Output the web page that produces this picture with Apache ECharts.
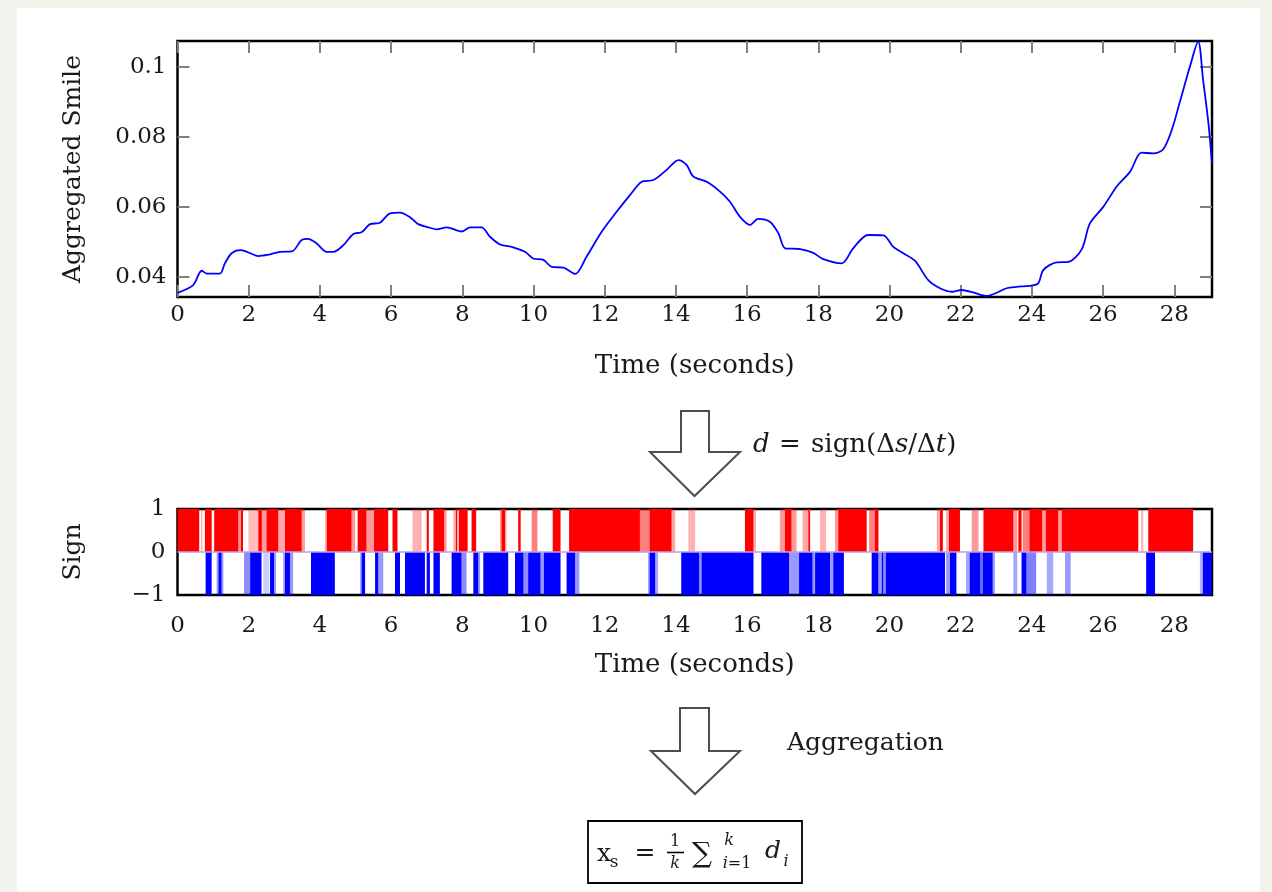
<!DOCTYPE html>
<html><head><meta charset="utf-8">
<script src="https://cdn.jsdelivr.net/npm/echarts@6/dist/echarts.min.js"></script>
<style>
html,body{margin:0;padding:0;background:#f4f2ed;width:1272px;height:892px;overflow:hidden}
#panel{position:absolute;left:17px;top:8px;width:1243px;height:884px;background:#fff}
#chart{position:absolute;left:0;top:0;width:1272px;height:892px}
</style></head><body>
<div id="panel"></div><div id="chart"></div>
<script>
// ---- data ----
const timeTicks = [0, 2, 4, 6, 8, 10, 12, 14, 16, 18, 20, 22, 24, 26, 28];
const smileTicks = [0.04, 0.06, 0.08, 0.1];
const signTicks = [-1, 0, 1];

const smileTime = [0, 0.44, 0.68, 0.82, 1.19, 1.33, 1.52, 1.76, 1.95, 2.27, 2.6, 2.88, 3.21, 3.49, 3.67, 3.91, 4.19, 4.38, 4.66, 4.94,
  5.17, 5.41, 5.69, 5.97, 6.25, 6.53, 6.76, 7.05, 7.28, 7.56, 7.98, 8.22, 8.54, 8.78, 9.06, 9.43, 9.76, 9.99, 10.28, 10.51,
  10.84, 11.17, 11.49, 11.92, 12.34, 12.71, 13.04, 13.37, 13.74, 14.07, 14.3, 14.49, 14.87, 15.24, 15.52, 15.8, 16.08, 16.31, 16.64, 16.88,
  17.07, 17.49, 17.86, 18.14, 18.66, 18.98, 19.4, 19.83, 20.1, 20.39, 20.72, 21.09, 21.42, 21.75, 22.03, 22.35, 22.73, 22.96, 23.29, 23.57,
  23.95, 24.18, 24.32, 24.7, 25.02, 25.4, 25.63, 26.01, 26.38, 26.76, 27.08, 27.41, 27.69, 27.93, 28.16, 28.44, 28.67, 28.81, 28.96, 29.06];
const smileValue = [0.0355, 0.0377, 0.0418, 0.0410, 0.0410, 0.0439, 0.0468, 0.0477, 0.0472, 0.0460, 0.0465, 0.0472, 0.0473, 0.0506, 0.0509, 0.0496, 0.0472, 0.0472, 0.0491, 0.0523,
  0.0528, 0.0551, 0.0555, 0.0582, 0.0584, 0.0571, 0.0551, 0.0542, 0.0536, 0.0542, 0.0530, 0.0542, 0.0542, 0.0515, 0.0493, 0.0485, 0.0472, 0.0453, 0.0449, 0.0429,
  0.0427, 0.0409, 0.0458, 0.0530, 0.0587, 0.0634, 0.0672, 0.0677, 0.0706, 0.0734, 0.0720, 0.0687, 0.0672, 0.0644, 0.0615, 0.0572, 0.0549, 0.0566, 0.0558, 0.0525,
  0.0482, 0.0480, 0.0469, 0.0451, 0.0439, 0.0482, 0.0520, 0.0519, 0.0487, 0.0468, 0.0446, 0.0391, 0.0368, 0.0358, 0.0363, 0.0356, 0.0346, 0.0353, 0.0368, 0.0372,
  0.0375, 0.0382, 0.0420, 0.0442, 0.0443, 0.0479, 0.0553, 0.0601, 0.0658, 0.0701, 0.0755, 0.0753, 0.0765, 0.0820, 0.0901, 0.1001, 0.1072, 0.0963, 0.0839, 0.0725];

// sign segments: [start time, end time, share of samples with that sign]
const posSegments = [
  [0, 0.61, 1], [0.66, 0.70, 0.3], [0.77, 0.96, 1], [1.03, 1.71, 1], [1.71, 1.78, 0.4], [1.78, 1.84, 1],
  [1.99, 2.27, 0.25], [2.27, 2.37, 1], [2.37, 2.5, 0.4], [2.5, 2.83, 1], [2.83, 3.02, 0.35], [3.02, 3.49, 1], [3.49, 3.58, 0.4],
  [4.14, 4.19, 0.3], [4.19, 4.89, 1], [4.89, 4.99, 0.4], [5.06, 5.31, 1], [5.31, 5.52, 0.4], [5.52, 5.92, 1], [6.04, 6.18, 1],
  [6.6, 6.86, 0.3], [7.0, 7.06, 1], [7.19, 7.49, 1], [7.49, 7.56, 0.4], [7.75, 7.82, 0.35], [7.82, 7.86, 1], [7.9, 8.15, 1],
  [8.26, 8.39, 1], [9.06, 9.1, 0.4], [9.1, 9.2, 1], [9.2, 9.24, 0.4], [9.57, 9.64, 1],
  [9.95, 10.11, 0.5], [10.54, 10.76, 1], [11.0, 12.99, 1], [12.99, 13.26, 0.5], [13.26, 13.88, 1], [13.88, 13.98, 0.35],
  [14.35, 14.54, 0.3], [15.94, 16.18, 1], [16.18, 16.25, 0.3], [16.92, 17.06, 0.4], [17.06, 17.25, 1], [17.25, 17.39, 0.4],
  [17.56, 17.72, 0.35], [17.72, 17.77, 1], [18.05, 18.22, 0.3], [18.47, 18.56, 0.4], [18.56, 19.36, 1],
  [19.43, 19.59, 0.5], [19.59, 19.69, 1], [21.33, 21.42, 0.35], [21.42, 21.5, 1], [21.59, 21.67, 0.35], [21.67, 21.98, 1],
  [22.31, 22.5, 0.4], [22.64, 23.48, 1], [23.48, 23.59, 0.4], [23.62, 23.71, 1], [23.74, 23.93, 0.5], [23.93, 24.29, 1],
  [24.29, 24.39, 0.4], [24.39, 24.74, 1], [24.74, 24.84, 0.4], [24.84, 26.99, 1], [27.07, 27.13, 0.3], [27.27, 28.53, 1]
];
const negSegments = [
  [0.79, 0.96, 1], [1.1, 1.15, 0.4], [1.15, 1.24, 1], [1.24, 1.29, 0.4], [1.87, 2.04, 0.45], [2.04, 2.36, 1],
  [2.41, 2.58, 0.2], [2.6, 2.71, 1], [2.71, 2.77, 0.4], [2.97, 3.02, 0.4], [3.02, 3.16, 1], [3.16, 3.25, 0.4],
  [3.75, 4.42, 1], [5.13, 5.17, 0.4], [5.17, 5.27, 1], [5.55, 5.64, 1], [5.64, 5.78, 0.4], [6.11, 6.25, 1],
  [6.39, 6.95, 1], [7.0, 7.09, 1], [7.19, 7.37, 1], [7.7, 7.98, 1], [7.98, 8.12, 0.45], [8.31, 8.45, 1], [8.45, 8.5, 0.4],
  [8.59, 9.29, 1], [9.48, 9.72, 1], [9.72, 9.85, 0.45], [9.85, 10.2, 1], [10.2, 10.29, 0.4], [10.29, 10.76, 1],
  [10.93, 11.17, 1], [11.17, 11.29, 0.4], [13.22, 13.26, 0.4], [13.26, 13.42, 1], [13.42, 13.5, 0.35],
  [14.15, 14.65, 1], [14.65, 14.72, 0.45], [14.72, 16.18, 1], [16.4, 17.18, 1], [17.18, 17.46, 0.4], [17.46, 17.84, 1],
  [17.84, 17.91, 0.4], [17.91, 18.33, 1], [18.33, 18.42, 0.4], [18.42, 18.72, 1],
  [19.5, 19.69, 1], [19.69, 19.78, 0.4], [19.78, 19.82, 1], [19.82, 19.9, 0.5], [19.9, 21.56, 1],
  [21.59, 21.7, 0.4], [21.7, 21.87, 1], [21.87, 21.9, 0.4], [22.15, 22.25, 0.35], [22.25, 22.55, 1], [22.55, 22.62, 0.6],
  [22.62, 22.9, 1], [22.9, 22.96, 0.4], [23.48, 23.59, 0.35], [23.71, 23.85, 1], [23.85, 24.12, 0.5],
  [24.42, 24.6, 0.35], [24.93, 25.09, 0.4], [27.21, 27.46, 1], [28.72, 28.8, 0.3], [28.8, 29.05, 1]
];

// ---- chart ----
const FONT = 'DejaVu Serif';
const TXT = '#1a1a1a';
const X0 = 177.5, X1 = 1212;
const tMax = 29.06;

const smileData = smileTime.map((t, i) => [t, smileValue[i]]);

function segRender(sign, rgb) {
  return function (params, api) {
    const s = api.value(0), e = api.value(1), w = api.value(2);
    const p0 = api.coord([s, sign]);
    const p1 = api.coord([e, 0]);
    return {
      type: 'rect',
      shape: { x: Math.min(p0[0], p1[0]), y: Math.min(p0[1], p1[1]),
               width: Math.abs(p1[0] - p0[0]), height: Math.abs(p1[1] - p0[1]) },
      style: { fill: 'rgba(' + rgb + ',' + w + ')' }
    };
  };
}

const tickStyle = { show: true, inside: true, length: 12, lineStyle: { color: '#808080', width: 2 } };
const labelBase = { fontFamily: FONT, fontSize: 23, color: TXT };
const titleStyle = { fontFamily: FONT, fontSize: 26, color: TXT };

const chart = echarts.init(document.getElementById('chart'), null, { renderer: 'canvas' });
chart.setOption({
  backgroundColor: 'transparent',
  animation: false,
  grid: [
    { left: X0, top: 41, width: X1 - X0, height: 256, show: true, borderColor: '#000', borderWidth: 2.5, backgroundColor: 'transparent' },
    { left: X0, top: 509, width: X1 - X0, height: 86, show: true, borderColor: '#000', borderWidth: 2.5, backgroundColor: 'transparent' }
  ],
  xAxis: [
    { type: 'value', gridIndex: 0, min: 0, max: tMax, position: 'bottom',
      axisLine: { show: false, onZero: false }, splitLine: { show: false },
      axisTick: Object.assign({ customValues: timeTicks }, tickStyle),
      axisLabel: Object.assign({ customValues: timeTicks, margin: 7 }, labelBase),
      name: 'Time (seconds)', nameLocation: 'middle', nameGap: 56, nameTextStyle: titleStyle },
    { type: 'value', gridIndex: 0, min: 0, max: tMax, position: 'top',
      axisLine: { show: false, onZero: false }, splitLine: { show: false },
      axisTick: Object.assign({ customValues: timeTicks }, tickStyle),
      axisLabel: { show: false } },
    { type: 'value', gridIndex: 1, min: 0, max: tMax, position: 'bottom',
      axisLine: { show: false, onZero: false }, splitLine: { show: false }, axisTick: { show: false },
      axisLabel: Object.assign({ customValues: timeTicks, margin: 20 }, labelBase),
      name: 'Time (seconds)', nameLocation: 'middle', nameGap: 57, nameTextStyle: titleStyle }
  ],
  yAxis: [
    { type: 'value', gridIndex: 0, min: 0.0343, max: 0.1074, position: 'left',
      axisLine: { show: false, onZero: false }, splitLine: { show: false },
      axisTick: Object.assign({ customValues: smileTicks }, tickStyle),
      axisLabel: Object.assign({ customValues: smileTicks, margin: 11, formatter: v => String(+v.toFixed(2)) }, labelBase),
      name: 'Aggregated Smile', nameLocation: 'middle', nameGap: 92,
      nameTextStyle: { fontFamily: FONT, fontSize: 25, color: TXT } },
    { type: 'value', gridIndex: 0, min: 0.0343, max: 0.1074, position: 'right',
      axisLine: { show: false, onZero: false }, splitLine: { show: false },
      axisTick: Object.assign({ customValues: smileTicks }, tickStyle),
      axisLabel: { show: false } },
    { type: 'value', gridIndex: 1, min: -1, max: 1, position: 'left',
      axisLine: { show: false, onZero: false }, splitLine: { show: false }, axisTick: { show: false },
      axisLabel: Object.assign({ customValues: signTicks, margin: 12,
        formatter: v => (v < 0 ? '\u2212' + Math.abs(v) : String(v)) }, labelBase),
      name: 'Sign', nameLocation: 'middle', nameGap: 92,
      nameTextStyle: { fontFamily: FONT, fontSize: 25, color: TXT } }
  ],
  series: [
    { type: 'line', xAxisIndex: 0, yAxisIndex: 0, data: smileData, symbol: 'none', smooth: 0.3,
      lineStyle: { color: '#0000ff', width: 1.8 }, clip: true, z: 3 },
    { type: 'line', xAxisIndex: 2, yAxisIndex: 2, data: [], z: 1, silent: true,
      markLine: { silent: true, symbol: 'none', label: { show: false },
        lineStyle: { color: 'rgba(190,160,225,0.75)', width: 2, type: 'solid' },
        data: [{ yAxis: 0 }] } },
    { type: 'custom', xAxisIndex: 2, yAxisIndex: 2, data: posSegments, encode: { x: [0, 1] },
      renderItem: segRender(1, '255,0,0'), clip: true, z: 3 },
    { type: 'custom', xAxisIndex: 2, yAxisIndex: 2, data: negSegments, encode: { x: [0, 1] },
      renderItem: segRender(-1, '0,0,255'), clip: true, z: 3 }
  ],
  graphic: [
    // arrow 1
    { type: 'polygon', shape: { points: [[681, 452], [681, 411], [709, 411], [709, 452], [740, 452], [694.5, 496], [650, 452]] },
      style: { fill: '#fff', stroke: '#4d4d4d', lineWidth: 2 } },
    { type: 'text', x: 753, y: 445, style: { text: 'd', fontFamily: FONT, fontSize: 26, fontStyle: 'italic', fill: TXT, verticalAlign: 'middle', align: 'left' } },
    { type: 'text', x: 790, y: 445, style: { text: '=', fontFamily: FONT, fontSize: 26, fill: TXT, verticalAlign: 'middle', align: 'center' } },
    { type: 'text', x: 811, y: 445, style: { text: 'sign(Δ{i|s}/Δ{i|t})', fontFamily: FONT, fontSize: 26, fill: TXT,
      verticalAlign: 'middle', align: 'left',
      rich: { i: { fontFamily: FONT, fontSize: 26, fontStyle: 'italic', fill: TXT } } } },
    // arrow 2
    { type: 'polygon', shape: { points: [[680, 751], [680, 708], [709, 708], [709, 751], [740, 751], [695, 794], [651, 751]] },
      style: { fill: '#fff', stroke: '#4d4d4d', lineWidth: 2 } },
    { type: 'text', x: 787, y: 743, style: { text: 'Aggregation', fontFamily: FONT, fontSize: 25, fill: TXT,
      verticalAlign: 'middle', align: 'left' } },
    // formula box
    { type: 'rect', shape: { x: 588, y: 821, width: 214, height: 62 }, style: { fill: '#fff', stroke: '#000', lineWidth: 1.8 } },
    { type: 'text', x: 604, y: 854, style: { text: 'x', fontFamily: FONT, fontSize: 25, fill: TXT, align: 'center', verticalAlign: 'middle' } },
    { type: 'text', x: 614, y: 863, style: { text: 's', fontFamily: FONT, fontSize: 17, fill: TXT, align: 'center', verticalAlign: 'middle' } },
    { type: 'text', x: 645, y: 853, style: { text: '=', fontFamily: FONT, fontSize: 25, fill: TXT, align: 'center', verticalAlign: 'middle' } },
    { type: 'text', x: 675, y: 842, style: { text: '1', fontFamily: FONT, fontSize: 16, fill: TXT, align: 'center', verticalAlign: 'middle' } },
    { type: 'line', shape: { x1: 667, y1: 852.5, x2: 684, y2: 852.5 }, style: { stroke: '#000', lineWidth: 1.6 } },
    { type: 'text', x: 675, y: 864, style: { text: 'k', fontFamily: FONT, fontSize: 16, fontStyle: 'italic', fill: TXT, align: 'center', verticalAlign: 'middle' } },
    { type: 'text', x: 702, y: 855, style: { text: '∑', fontFamily: FONT, fontSize: 28, fill: TXT, align: 'center', verticalAlign: 'middle' } },
    { type: 'text', x: 729, y: 841, style: { text: 'k', fontFamily: FONT, fontSize: 16, fontStyle: 'italic', fill: TXT, align: 'center', verticalAlign: 'middle' } },
    { type: 'text', x: 737, y: 864, style: { text: '{i|i}=1', fontFamily: FONT, fontSize: 16, fill: TXT, align: 'center', verticalAlign: 'middle',
      rich: { i: { fontFamily: FONT, fontSize: 16, fontStyle: 'italic', fill: TXT } } } },
    { type: 'text', x: 773, y: 851, style: { text: 'd', fontFamily: FONT, fontSize: 25, fontStyle: 'italic', fill: TXT, align: 'center', verticalAlign: 'middle' } },
    { type: 'text', x: 786, y: 862, style: { text: 'i', fontFamily: FONT, fontSize: 16, fontStyle: 'italic', fill: TXT, align: 'center', verticalAlign: 'middle' } }
  ]
});
</script>
</body></html>
